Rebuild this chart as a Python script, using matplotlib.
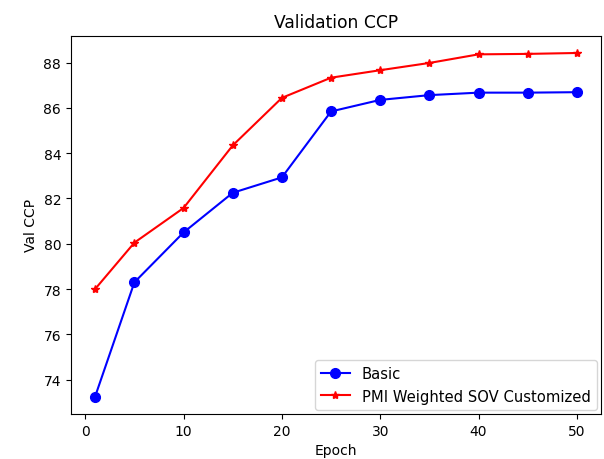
import matplotlib
matplotlib.use("Agg")
import matplotlib.pyplot as plt

epochs = [1, 5, 10, 15, 20, 25, 30, 35, 40, 45, 50]
basic = [73.25, 78.3, 80.5, 82.25, 82.93, 85.84, 86.35, 86.56, 86.67, 86.67, 86.69]
pmi = [78.0, 80.05, 81.58, 84.34, 86.44, 87.33, 87.66, 87.98, 88.36, 88.38, 88.42]

fig = plt.figure(figsize=(6.04, 4.60), dpi=100)
ax = fig.add_axes([0.1175, 0.098, 0.8775, 0.822])
ax.plot(epochs, basic, color="blue", marker="o", markersize=7, label="Basic")
ax.plot(epochs, pmi, color="red", marker="*", markersize=6, label="PMI Weighted SOV Customized")
ax.set_title("Validation CCP", fontsize=12.3)
ax.set_xlabel("Epoch")
ax.set_ylabel("Val CCP")
ax.legend(loc="lower right", fontsize=10.6, borderaxespad=0.3)
fig.savefig("out.png", dpi=100)
